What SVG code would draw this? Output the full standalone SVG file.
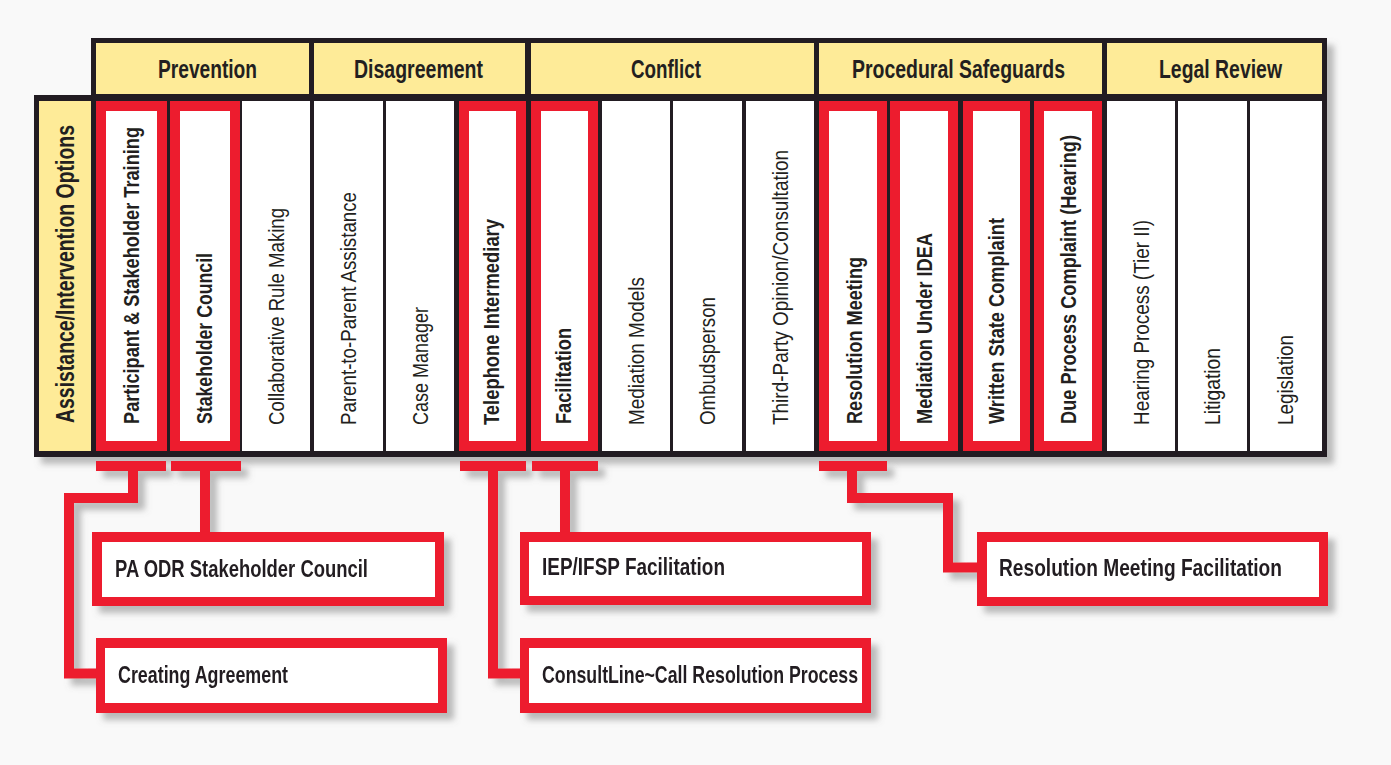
<svg xmlns="http://www.w3.org/2000/svg" width="1391" height="765" viewBox="0 0 1391 765">
<defs>
<filter id="sh" x="-5%" y="-5%" width="115%" height="125%">
<feDropShadow dx="7" dy="7" stdDeviation="3" flood-color="#7a7a7a" flood-opacity="0.5"/>
</filter>
<style>
text{font-family:"Liberation Sans Narrow","Liberation Sans",Arial,sans-serif;fill:#231f20}
.hd{font-size:25px;font-weight:bold}
.cb{font-size:22px;font-weight:bold}
.cl{font-size:22px;font-weight:normal}
.bx{font-size:24px;font-weight:bold}
.y{fill:#feeb98}
.r{fill:#ed1c2e}
.w{fill:#ffffff}
.k{fill:#231f20}
.cn{fill:none;stroke:#ed1c2e;stroke-width:10;stroke-linejoin:miter;stroke-linecap:butt}
</style>
</defs>
<rect width="1391" height="765" fill="#f9f9f9"/>

<g id="table" filter="url(#sh)">
<path class="k" d="M91,38 H1327 V457 H34 V95 H91 Z"/>
</g>

<g id="header-prevention"><rect class="y" x="96" y="43" width="213" height="51"/><text class="hd" x="158" y="78" textLength="99" lengthAdjust="spacingAndGlyphs">Prevention</text></g>
<g id="header-disagreement"><rect class="y" x="314" y="43" width="211" height="51"/><text class="hd" x="354" y="78" textLength="129" lengthAdjust="spacingAndGlyphs">Disagreement</text></g>
<g id="header-conflict"><rect class="y" x="531" y="43" width="283" height="51"/><text class="hd" x="631" y="78" textLength="70" lengthAdjust="spacingAndGlyphs">Conflict</text></g>
<g id="header-procedural"><rect class="y" x="819" y="43" width="283" height="51"/><text class="hd" x="852" y="78" textLength="213" lengthAdjust="spacingAndGlyphs">Procedural Safeguards</text></g>
<g id="header-legal"><rect class="y" x="1107" y="43" width="215" height="51"/><text class="hd" x="1159" y="78" textLength="123" lengthAdjust="spacingAndGlyphs">Legal Review</text></g>

<g id="row-label"><rect class="y" x="39" y="101" width="52" height="350"/><text class="hd" transform="translate(74,423) rotate(-90)" textLength="298" lengthAdjust="spacingAndGlyphs">Assistance/Intervention Options</text></g>

<g id="col-participant-training"><rect class="r" x="96" y="101" width="71" height="350"/><rect class="w" x="106" y="111" width="51" height="330"/><text class="cb" transform="translate(138.5,424) rotate(-90)" textLength="297" lengthAdjust="spacingAndGlyphs">Participant &amp; Stakeholder Training</text></g>
<g id="col-stakeholder-council"><rect class="r" x="170" y="101" width="70" height="350"/><rect class="w" x="180" y="111" width="50" height="330"/><text class="cb" transform="translate(212,424) rotate(-90)" textLength="171" lengthAdjust="spacingAndGlyphs">Stakeholder Council</text></g>
<g id="col-collaborative"><rect class="w" x="242" y="101" width="68" height="350"/><text class="cl" transform="translate(284,425) rotate(-90)" textLength="217" lengthAdjust="spacingAndGlyphs">Collaborative Rule Making</text></g>
<g id="col-parent"><rect class="w" x="314" y="101" width="69" height="350"/><text class="cl" transform="translate(356,425) rotate(-90)" textLength="233" lengthAdjust="spacingAndGlyphs">Parent-to-Parent Assistance</text></g>
<g id="col-case-manager"><rect class="w" x="386" y="101" width="68" height="350"/><text class="cl" transform="translate(428,425) rotate(-90)" textLength="118" lengthAdjust="spacingAndGlyphs">Case Manager</text></g>
<g id="col-telephone"><rect class="r" x="459" y="101" width="67" height="350"/><rect class="w" x="469" y="111" width="47" height="330"/><text class="cb" transform="translate(499,425) rotate(-90)" textLength="206" lengthAdjust="spacingAndGlyphs">Telephone Intermediary</text></g>
<g id="col-facilitation"><rect class="r" x="531" y="101" width="67" height="350"/><rect class="w" x="541" y="111" width="47" height="330"/><text class="cb" transform="translate(571,424) rotate(-90)" textLength="96" lengthAdjust="spacingAndGlyphs">Facilitation</text></g>
<g id="col-mediation-models"><rect class="w" x="602" y="101" width="68" height="350"/><text class="cl" transform="translate(644,425) rotate(-90)" textLength="148" lengthAdjust="spacingAndGlyphs">Mediation Models</text></g>
<g id="col-ombudsperson"><rect class="w" x="673" y="101" width="69" height="350"/><text class="cl" transform="translate(715,425) rotate(-90)" textLength="128" lengthAdjust="spacingAndGlyphs">Ombudsperson</text></g>
<g id="col-third-party"><rect class="w" x="746" y="101" width="68" height="350"/><text class="cl" transform="translate(788,425) rotate(-90)" textLength="275" lengthAdjust="spacingAndGlyphs">Third-Party Opinion/Consultation</text></g>
<g id="col-resolution-meeting"><rect class="r" x="819" y="101" width="68" height="350"/><rect class="w" x="829" y="111" width="48" height="330"/><text class="cb" transform="translate(862,424) rotate(-90)" textLength="167" lengthAdjust="spacingAndGlyphs">Resolution Meeting</text></g>
<g id="col-mediation-idea"><rect class="r" x="890" y="101" width="68" height="350"/><rect class="w" x="900" y="111" width="48" height="330"/><text class="cb" transform="translate(932,424) rotate(-90)" textLength="191" lengthAdjust="spacingAndGlyphs">Mediation Under IDEA</text></g>
<g id="col-written-complaint"><rect class="r" x="963" y="101" width="67" height="350"/><rect class="w" x="973" y="111" width="47" height="330"/><text class="cb" transform="translate(1004,424) rotate(-90)" textLength="206" lengthAdjust="spacingAndGlyphs">Written State Complaint</text></g>
<g id="col-due-process"><rect class="r" x="1034" y="101" width="68" height="350"/><rect class="w" x="1044" y="111" width="48" height="330"/><text class="cb" transform="translate(1076,424) rotate(-90)" textLength="289" lengthAdjust="spacingAndGlyphs">Due Process Complaint (Hearing)</text></g>
<g id="col-hearing"><rect class="w" x="1107" y="101" width="68" height="350"/><text class="cl" transform="translate(1149,425) rotate(-90)" textLength="205" lengthAdjust="spacingAndGlyphs">Hearing Process (Tier II)</text></g>
<g id="col-litigation"><rect class="w" x="1178" y="101" width="69" height="350"/><text class="cl" transform="translate(1220,425) rotate(-90)" textLength="77" lengthAdjust="spacingAndGlyphs">Litigation</text></g>
<g id="col-legislation"><rect class="w" x="1250" y="101" width="72" height="350"/><text class="cl" transform="translate(1293,425) rotate(-90)" textLength="90" lengthAdjust="spacingAndGlyphs">Legislation</text></g>

<g id="connectors" filter="url(#sh)">
<path class="cn" d="M96,466 H166 M133,466 V498 H69 V673.5 H100"/>
<path class="cn" d="M171,466 H241 M205,466 V536"/>
<path class="cn" d="M460,466 H526 M493,466 V673.5 H524"/>
<path class="cn" d="M532,466 H598 M565,466 V536"/>
<path class="cn" d="M819,466 H887 M852,466 V498 H948 V567.5 H981"/>
</g>

<g id="box-pa-odr" filter="url(#sh)"><rect class="r" x="92" y="532" width="352" height="74"/><rect class="w" x="102" y="542" width="333" height="55"/><text class="bx" x="115" y="577" textLength="253" lengthAdjust="spacingAndGlyphs">PA ODR Stakeholder Council</text></g>
<g id="box-creating-agreement" filter="url(#sh)"><rect class="r" x="96" y="638" width="351" height="75"/><rect class="w" x="105" y="648" width="333" height="55"/><text class="bx" x="118" y="683" textLength="170" lengthAdjust="spacingAndGlyphs">Creating Agreement</text></g>
<g id="box-iep" filter="url(#sh)"><rect class="r" x="520" y="532" width="351" height="73"/><rect class="w" x="529" y="542" width="333" height="54"/><text class="bx" x="542" y="575" textLength="183" lengthAdjust="spacingAndGlyphs">IEP/IFSP Facilitation</text></g>
<g id="box-consultline" filter="url(#sh)"><rect class="r" x="520" y="638" width="351" height="75"/><rect class="w" x="529" y="648" width="333" height="55"/><text class="bx" x="542" y="683" textLength="316" lengthAdjust="spacingAndGlyphs">ConsultLine~Call Resolution Process</text></g>
<g id="box-resolution-facilitation" filter="url(#sh)"><rect class="r" x="977" y="532" width="351" height="74"/><rect class="w" x="987" y="542" width="332" height="55"/><text class="bx" x="999" y="576" textLength="283" lengthAdjust="spacingAndGlyphs">Resolution Meeting Facilitation</text></g>
</svg>
